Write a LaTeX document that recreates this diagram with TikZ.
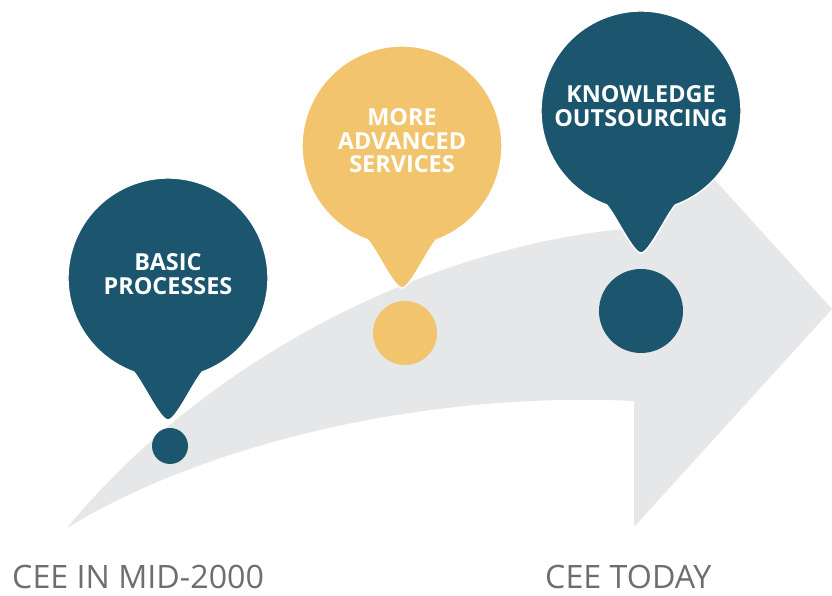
\documentclass[tikz,border=0pt]{standalone}
\usepackage{fontspec}
\setsansfont{Open Sans}
\tikzset{every picture/.style={/utils/exec={\sffamily}}}
\usetikzlibrary{positioning}

\definecolor{petrol}{HTML}{1B566E}
\definecolor{sand}{HTML}{F2C46E}
\definecolor{track}{HTML}{E6E7E8}
\definecolor{caption}{HTML}{6D6E71}

\tikzset{
  pinhead/.style={fill=#1, draw=white, line width=1.2pt},
  pintext/.style={text=white, font=\bfseries\fontsize{20}{20}\selectfont, align=center, inner sep=0pt},
  dot/.style={circle, fill=#1, inner sep=0pt},
  era/.style={text=caption, font=\fontsize{27.5}{27.5}\selectfont, anchor=base west, inner sep=0pt},
}

% pin with round head and pointed foot, #1 = centre, #2 = colour
\newcommand{\pinshape}[2]{%
  \filldraw[pinhead=#2] ([shift={(-70:100)}]#1) arc[start angle=-70, end angle=250, radius=100]
    .. controls +(10,-12) and +(-8,0) .. ([shift={(0,-142)}]#1)
    .. controls +(8,0) and +(-10,-12) .. ([shift={(-70:100)}]#1) -- cycle;
}

\begin{document}
\begin{tikzpicture}[x=0.03cm, y=0.03cm]
  \useasboundingbox (0,0) rectangle (832,596);

  % the big arrow
  \coordinate (start) at (67,68);
  \coordinate (neckup) at (634,368);
  \coordinate (headup) at (634,505);
  \coordinate (tip) at (832,287);
  \coordinate (headdown) at (634,69);
  \coordinate (neckdown) at (634,195);
  \fill[track] (start) .. controls (200,230) and (420,350) .. (neckup)
    -- (headup) -- (tip) -- (headdown) -- (neckdown)
    .. controls (420,205) and (200,150) .. (start) -- cycle;

  \coordinate (p1) at (168,318);
  \coordinate (p2) at (402,450);
  \coordinate (p3) at (641,485);

  \pinshape{p1}{petrol}
  \pinshape{p2}{sand}
  \pinshape{p3}{petrol}

  \node[dot=petrol, minimum size=1.08cm] (d1) at (170,150) {};
  \node[dot=sand, minimum size=1.92cm] (d2) at (405,263) {};
  \node[dot=petrol, minimum size=2.52cm] (d3) at (641,285) {};

  \node[pintext] (t1) at ([yshift=4*0.03cm]p1) {BASIC\\PROCESSES};
  \node[pintext] (t2) at ([yshift=5*0.03cm]p2) {MORE\\ADVANCED\\SERVICES};
  \node[pintext] (t3) at ([yshift=5*0.03cm]p3) {KNOWLEDGE\\OUTSOURCING};

  \node[era] (then) at (12,7) {CEE IN MID-2000};
  \node[era] (now) at (545,7) {CEE TODAY};
\end{tikzpicture}
\end{document}
